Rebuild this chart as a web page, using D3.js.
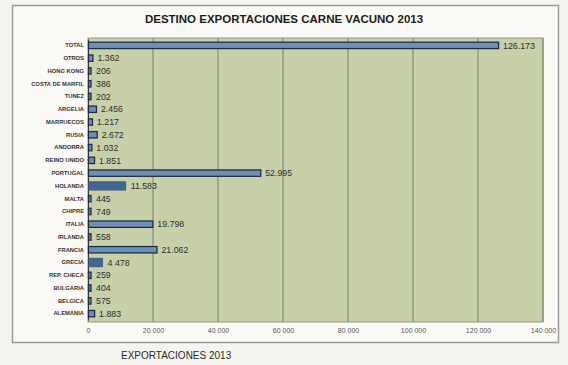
<!DOCTYPE html>
<html>
<head>
<meta charset="utf-8">
<script src="https://cdn.jsdelivr.net/npm/d3@7/dist/d3.min.js"></script>
<style>
  html, body { margin: 0; padding: 0; background: #f6f4ef; }
  svg { display: block; }
</style>
</head>
<body>
<svg id="chart" width="568" height="365"></svg>
<script>
// Beef export destinations, 2013 (tonnes)
const categories = [
  "TOTAL", "OTROS", "HONG KONG", "COSTA DE MARFIL", "TUNEZ", "ARGELIA",
  "MARRUECOS", "RUSIA", "ANDORRA", "REINO UNIDO", "PORTUGAL", "HOLANDA",
  "MALTA", "CHIPRE", "ITALIA", "IRLANDA", "FRANCIA", "GRECIA",
  "REP. CHECA", "BULGARIA", "BELGICA", "ALEMANIA"
];
const values = [
  126173, 1362, 206, 386, 202, 2456,
  1217, 2672, 1032, 1851, 52995, 11583,
  445, 749, 19798, 558, 21062, 4478,
  259, 404, 575, 1883
];
const valueLabels = [
  "126.173", "1.362", "206", "386", "202", "2.456",
  "1.217", "2.672", "1.032", "1.851", "52.995", "11.583",
  "445", "749", "19.798", "558", "21.062", "4 478",
  "259", "404", "575", "1.883"
];
const tickValues = [0, 20000, 40000, 60000, 80000, 100000, 120000, 140000];
const tickLabels = ["0", "20 000", "40 000", "60 000", "80 000", "100 000", "120 000", "140 000"];

const svg = d3.select("#chart");
const plot = { left: 88, right: 543, top: 38, bottom: 322 };

// card frame
svg.append("rect")
  .attr("x", 12.5).attr("y", 5.5).attr("width", 546).attr("height", 337)
  .attr("fill", "#fbfaf6").attr("stroke", "#9a9a96").attr("stroke-width", 1.5);

svg.append("text")
  .attr("x", 284).attr("y", 23)
  .attr("text-anchor", "middle")
  .attr("font-family", "Liberation Sans, Arial, sans-serif")
  .attr("font-weight", "bold").attr("font-size", 11.5)
  .attr("fill", "#1c1c1c")
  .text("DESTINO EXPORTACIONES CARNE VACUNO 2013");

const x = d3.scaleLinear().domain([0, 140000]).range([plot.left, plot.right]);
const y = d3.scaleBand().domain(categories)
  .range([plot.top + 1, plot.bottom - 2]).paddingInner(0.5).paddingOuter(0.25);

// plot background
svg.append("rect")
  .attr("x", plot.left).attr("y", plot.top)
  .attr("width", plot.right - plot.left).attr("height", plot.bottom - plot.top)
  .attr("fill", "#c8d0aa").attr("stroke", "#8f9a80").attr("stroke-width", 1);

// vertical gridlines
svg.append("g")
  .selectAll("line")
  .data(tickValues.slice(1))
  .join("line")
  .attr("x1", d => x(d)).attr("x2", d => x(d))
  .attr("y1", plot.top).attr("y2", plot.bottom)
  .attr("stroke", "#75806a").attr("stroke-width", 1);

// bottom axis
const xAxis = d3.axisBottom(x)
  .tickValues(tickValues)
  .tickFormat((d, i) => tickLabels[i])
  .tickSize(0).tickPadding(6);
const gx = svg.append("g").attr("transform", `translate(0,${plot.bottom})`).call(xAxis);
gx.select(".domain").remove();
gx.selectAll("text")
  .attr("font-family", "Liberation Sans, Arial, sans-serif")
  .attr("font-size", 7).attr("fill", "#555");

// left axis (category names)
const yAxis = d3.axisLeft(y).tickSize(0).tickPadding(4);
const gy = svg.append("g").attr("transform", `translate(${plot.left},0)`).call(yAxis);
gy.select(".domain").attr("stroke", "#333").attr("stroke-width", 1);
gy.selectAll("text")
  .attr("font-family", "Liberation Sans Narrow, Arial Narrow, Liberation Sans, sans-serif")
  .attr("font-weight", "bold")
  .attr("font-size", 5.8).attr("fill", "#333");

const data = categories.map((c, i) => ({ c, v: values[i], label: valueLabels[i] }));
const solid = new Set(["HOLANDA", "GRECIA"]);

// bars
svg.append("g")
  .selectAll("rect")
  .data(data)
  .join("rect")
  .attr("x", x(0) + 0.5)
  .attr("y", d => solid.has(d.c) ? y(d.c) - 1.5 : y(d.c))
  .attr("width", d => Math.max(x(d.v) - x(0), 2.5))
  .attr("height", d => solid.has(d.c) ? y.bandwidth() + 3 : y.bandwidth())
  .attr("fill", d => solid.has(d.c) ? "#41678f" : "#6f8fb6")
  .attr("stroke", d => solid.has(d.c) ? "none" : "#1d2e44")
  .attr("stroke-width", 1.3);

// value labels
svg.append("g")
  .selectAll("text")
  .data(data)
  .join("text")
  .attr("x", d => Math.max(x(d.v), x(0) + 3) + 5)
  .attr("y", d => y(d.c) + y.bandwidth() / 2)
  .attr("dy", "0.36em")
  .attr("font-family", "Liberation Sans, Arial, sans-serif")
  .attr("font-size", 8.8)
  .attr("fill", "#2e2e2e")
  .text(d => d.label);

svg.append("text")
  .attr("x", 121).attr("y", 359)
  .attr("font-family", "Liberation Sans, Arial, sans-serif")
  .attr("font-size", 10).attr("fill", "#2a2a2a")
  .text("EXPORTACIONES 2013");
</script>
</body>
</html>
